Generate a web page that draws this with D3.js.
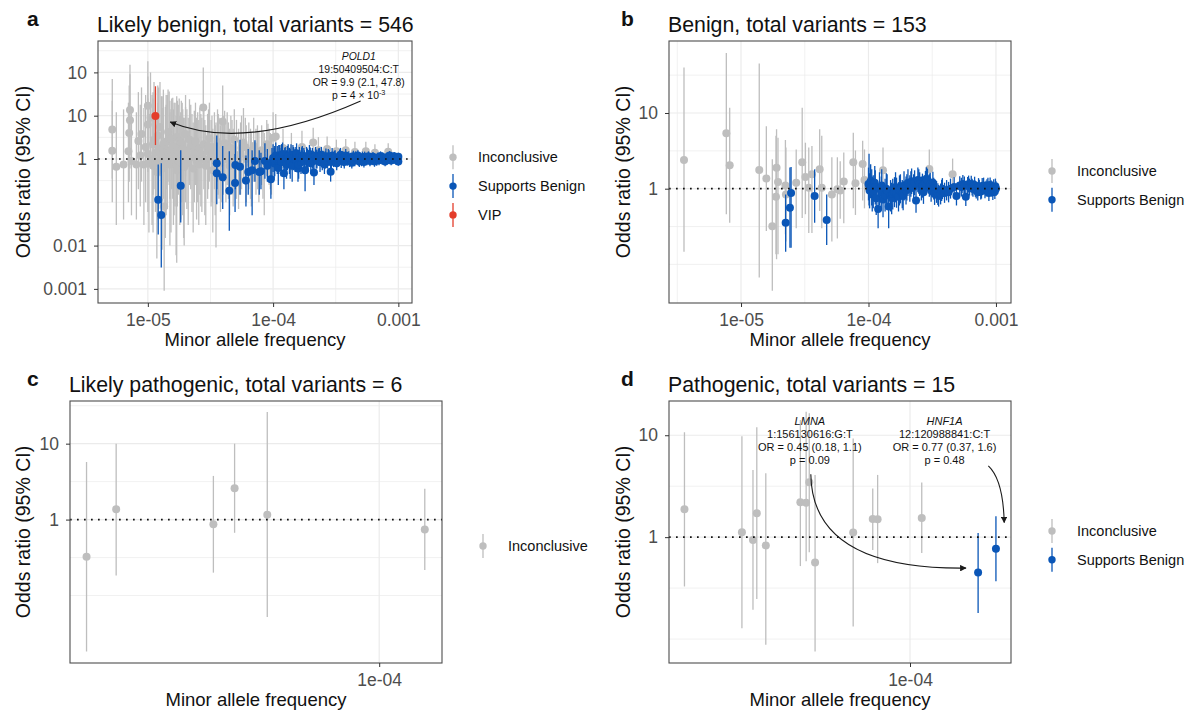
<!DOCTYPE html>
<html>
<head>
<meta charset="utf-8">
<script src="https://cdn.jsdelivr.net/npm/d3@7"></script>
<style>
  body { margin: 0; background: #fff; }
  text { font-family: "Liberation Sans", Arial, Helvetica, sans-serif; }
</style>
</head>
<body>
<svg id="chart" width="1192" height="712"></svg>
<script>
// rows are [minor allele frequency, odds ratio, lower 95% CI, upper 95% CI]

var categories = ["Inconclusive", "Supports Benign", "VIP"];

// ---- a: likely benign ----
var aInconclusive = [
  [5.2e-6,4.8,0.35,70],[5.2e-6,1.55,0.1,22],[5.6e-6,0.66,0.03,12],[6.4e-6,0.75,0.04,14],
  [7.2e-6,13.5,1.2,150],[7.2e-6,7.8,0.6,90],[7.1e-6,4.0,0.3,50],[7.0e-6,1.5,0.1,20],
  [7.4e-6,0.9,0.05,15],[8.1e-6,0.75,0.04,12],[8.4e-6,2.6,0.2,35],[8.9e-6,3.8,0.3,45],
  [8.7e-6,1.2,0.08,18],[9.3e-6,0.75,0.03,15],[9.6e-6,1.9,0.1,30],[1.0e-5,17,1.5,180],
  [1.0e-5,6.3,0.5,80],[1.05e-5,9,0.8,100],[1.0e-5,1.3,0.06,25],[1.02e-5,0.8,0.02,20],
  [1.08e-5,1.0,0.03,30],[1.1e-5,2.2,0.15,35],[1.1e-5,0.7,0.02,25],[1.12e-5,2.8,0.2,60],
  [1.15e-5,1.4,0.06,40],[1.18e-5,0.5,0.005,10],[1.2e-5,3.5,0.25,50],[1.2e-5,0.9,0.04,20],
  [1.22e-5,1.7,0.07,45],[1.25e-5,5.5,0.4,60],[1.28e-5,1.2,0.04,28],[1.3e-5,1.8,0.1,28],
  [1.3e-5,0.6,0.008,15],[1.33e-5,2.2,0.12,40],[1.35e-5,0.08,0.0009,1.5],[1.38e-5,0.8,0.015,16],
  [1.4e-5,2.5,0.2,30],[1.4e-5,1.1,0.05,18],[1.43e-5,1.5,0.07,30],[1.45e-5,4.2,0.3,40],
  [1.48e-5,3.0,0.25,36],[1.5e-5,0.75,0.01,12],[1.5e-5,1.6,0.12,22],[1.53e-5,0.9,0.02,14],
  [1.55e-5,2.9,0.2,25],[1.58e-5,2.0,0.12,26],[1.6e-5,0.9,0.03,14],[1.62e-5,1.2,0.05,20],
  [1.65e-5,1.3,0.08,20],[1.68e-5,0.7,0.006,10],[1.7e-5,3.2,0.3,28],[1.7e-5,0.55,0.004,8],
  [1.72e-5,1.5,0.08,22],[1.75e-5,1.9,0.15,18],[1.78e-5,2.6,0.2,25],[1.8e-5,0.85,0.03,10],
  [1.83e-5,1.0,0.04,12],[1.85e-5,2.3,0.2,22],[1.88e-5,1.7,0.1,20],[1.9e-5,1.2,0.05,14],
  [1.93e-5,0.8,0.015,9],[1.95e-5,0.65,0.01,9],[2.0e-5,1.6,0.1,16],[2.0e-5,3.8,0.4,30],
  [2.05e-5,1.2,0.07,14],[2.1e-5,0.8,0.03,9],[2.15e-5,2.8,0.25,24],[2.2e-5,2.0,0.2,18],
  [2.25e-5,1.1,0.06,11],[2.3e-5,0.6,0.02,7],[2.35e-5,1.5,0.1,13],[2.4e-5,2.6,0.25,20],
  [2.45e-5,0.9,0.04,9],[2.5e-5,1.4,0.1,12],[2.55e-5,0.75,0.03,8],[2.6e-5,1.8,0.15,15],
  [2.65e-5,1.3,0.08,11],[2.7e-5,1.0,0.06,9],[2.77e-5,15.5,1.8,130],[2.8e-5,2.2,0.2,16],
  [2.85e-5,1.0,0.05,8],[2.9e-5,0.7,0.03,6],[3.0e-5,1.5,0.12,11],[3.05e-5,2.0,0.2,14],
  [3.1e-5,3.0,0.3,20],[3.2e-5,1.1,0.08,8],[3.25e-5,1.4,0.1,10],[3.3e-5,0.55,0.02,5],
  [3.4e-5,1.9,0.2,12],[3.45e-5,0.85,0.05,6],[3.5e-5,0.9,0.009,7],[3.6e-5,2.5,0.3,14],
  [3.65e-5,1.7,0.15,11],[3.7e-5,1.3,0.12,9],[3.8e-5,0.8,0.06,6],[3.85e-5,1.1,0.1,7],
  [3.96e-5,7.3,0.8,50],[4.0e-5,1.6,0.15,10],[4.1e-5,2.3,0.3,13],[4.2e-5,1.0,0.1,7],
  [4.3e-5,2.1,0.25,12],[4.4e-5,1.2,0.12,7],[4.5e-5,0.7,0.05,5],[4.6e-5,1.8,0.2,10],
  [4.7e-5,1.4,0.15,8],[4.8e-5,0.9,0.08,5],[4.9e-5,2.8,0.35,14],[5.1e-5,1.2,0.12,8],
  [5.3e-5,0.8,0.07,5],[5.5e-5,1.3,0.15,7],[5.6e-5,1.8,0.2,10],[5.8e-5,2.4,0.3,15],
  [6.0e-5,1.9,0.25,9],[6.1e-5,1.0,0.1,6],[6.4e-5,1.5,0.2,7],[6.6e-5,1.1,0.12,5],
  [6.7e-5,0.75,0.08,4],[7.0e-5,2.0,0.3,9],[7.3e-5,1.2,0.15,5],[7.5e-5,1.4,0.2,6],
  [7.7e-5,0.9,0.1,4.5],[8.1e-5,1.6,0.25,6],[8.3e-5,1.0,0.12,4.5],[8.5e-5,1.1,0.05,4],
  [8.9e-5,2.2,0.4,8],[9.1e-5,1.7,0.3,6.5],[9.3e-5,1.3,0.25,5],[9.5e-5,1.05,0.2,4],
  [9.7e-5,0.8,0.15,3.5],[1.0e-4,3.1,0.6,12],[1.05e-4,3.3,0.9,11],[1.2e-4,1.8,0.6,5],
  [1.4e-4,1.5,0.55,4],[1.7e-4,1.9,0.7,4.5],[2.09e-4,2.4,1.0,5.3],[2.3e-4,1.6,0.8,3.2],
  [2.7e-4,1.7,0.85,3.3],[3.2e-4,1.5,0.8,2.8],[3.8e-4,1.6,0.85,2.9],[4.5e-4,1.45,0.8,2.5],
  [5.5e-4,1.5,0.85,2.5],[6.5e-4,1.4,0.9,2.2],[8.3e-4,1.47,0.95,2.3]
];
var aBenign = [
  [1.21e-5,0.115,0.018,0.75],[1.28e-5,0.051,0.0031,0.8],[1.83e-5,0.24,0.034,1.6],
  [3.55e-5,0.47,0.09,2.4],[3.55e-5,0.8,0.2,3.5],[3.96e-5,0.38,0.07,2.0],[4.47e-5,0.185,0.022,1.5],
  [4.97e-5,0.28,0.06,1.3],[5.0e-5,0.73,0.2,2.6],[5.44e-5,0.66,0.15,2.8],[6.07e-5,0.32,0.08,1.2],
  [6.33e-5,0.5,0.15,1.7],[6.8e-5,0.55,0.05,1.6],[7.16e-5,0.9,0.3,2.7],[7.75e-5,0.5,0.15,1.6],
  [8.0e-5,0.52,0.2,1.4],[8.6e-5,0.9,0.35,2.3],[9.0e-5,0.7,0.3,1.7],[9.6e-5,0.34,0.12,0.95],
  [9.8e-5,0.85,0.4,1.8],
  [1.0e-4,1.05,0.5,2.2],[1.02e-4,0.8,0.35,1.8],[1.03e-4,0.9,0.4,2.0],[1.05e-4,1.2,0.6,2.4],
  [1.08e-4,0.95,0.45,2.0],[1.1e-4,0.62,0.25,1.5],[1.11e-4,1.0,0.45,2.1],[1.13e-4,1.1,0.55,2.1],
  [1.16e-4,0.85,0.4,1.8],[1.17e-4,1.15,0.6,2.2],[1.19e-4,1.3,0.7,2.4],[1.22e-4,0.47,0.2,1.1],
  [1.24e-4,0.9,0.45,1.8],[1.25e-4,1.0,0.5,1.9],[1.28e-4,0.75,0.35,1.6],[1.3e-4,1.05,0.55,2.0],
  [1.32e-4,1.15,0.6,2.2],[1.35e-4,0.9,0.45,1.8],[1.37e-4,0.8,0.35,1.7],[1.39e-4,1.25,0.7,2.2],
  [1.42e-4,0.7,0.3,1.5],[1.44e-4,1.2,0.65,2.1],[1.46e-4,1.05,0.55,1.9],[1.5e-4,0.95,0.5,1.7],
  [1.52e-4,1.0,0.5,1.9],[1.54e-4,1.35,0.8,2.3],[1.58e-4,0.6,0.3,1.2],[1.6e-4,0.75,0.35,1.5],
  [1.62e-4,1.1,0.6,1.9],[1.67e-4,0.85,0.45,1.6],[1.69e-4,1.05,0.6,1.85],[1.71e-4,1.2,0.7,2.0],
  [1.76e-4,1.0,0.55,1.8],[1.78e-4,0.9,0.5,1.6],[1.8e-4,0.55,0.18,1.2],[1.85e-4,1.15,0.65,1.9],
  [1.88e-4,1.0,0.55,1.75],[1.9e-4,0.9,0.5,1.6],[1.95e-4,1.3,0.8,2.1],[1.98e-4,1.1,0.65,1.85],
  [2.0e-4,0.8,0.45,1.4],[2.06e-4,1.05,0.6,1.8],[2.09e-4,0.9,0.5,1.55],[2.12e-4,0.49,0.25,0.95],
  [2.18e-4,1.2,0.75,1.9],[2.21e-4,1.0,0.6,1.65],[2.24e-4,0.95,0.6,1.6],[2.3e-4,1.1,0.7,1.75],
  [2.34e-4,1.15,0.7,1.8],[2.37e-4,0.85,0.5,1.4],[2.43e-4,1.25,0.8,1.9],[2.47e-4,0.88,0.55,1.4],
  [2.5e-4,1.0,0.65,1.55],[2.57e-4,0.75,0.45,1.25],[2.61e-4,0.95,0.6,1.5],[2.64e-4,1.15,0.75,1.75],
  [2.72e-4,0.9,0.6,1.4],[2.76e-4,1.1,0.7,1.7],[2.8e-4,1.05,0.7,1.6],[2.88e-4,0.51,0.3,0.9],
  [2.92e-4,0.85,0.55,1.3],[2.96e-4,1.2,0.8,1.8],[3.04e-4,0.95,0.65,1.4],[3.09e-4,1.05,0.7,1.55],
  [3.13e-4,1.1,0.75,1.6],[3.22e-4,0.8,0.55,1.2],[3.27e-4,0.95,0.65,1.4],[3.31e-4,1.0,0.7,1.45],
  [3.4e-4,1.15,0.8,1.65],[3.45e-4,1.25,0.85,1.8],[3.5e-4,0.9,0.62,1.3],[3.6e-4,1.05,0.75,1.5],
  [3.65e-4,0.95,0.68,1.35],[3.7e-4,0.85,0.6,1.2],[3.8e-4,1.2,0.85,1.7],[3.86e-4,1.05,0.75,1.45],
  [3.91e-4,0.95,0.7,1.3],[4.02e-4,1.1,0.8,1.5],[4.08e-4,0.9,0.65,1.25],[4.13e-4,1.0,0.72,1.4],
  [4.25e-4,0.82,0.6,1.15],[4.31e-4,1.0,0.73,1.38],[4.37e-4,1.15,0.85,1.55],[4.49e-4,0.92,0.68,1.25],
  [4.55e-4,1.1,0.8,1.5],[4.62e-4,1.05,0.78,1.4],[4.75e-4,1.2,0.9,1.6],[4.81e-4,0.95,0.7,1.3],
  [4.88e-4,0.88,0.65,1.2],[5.02e-4,1.0,0.75,1.35],[5.09e-4,0.92,0.68,1.25],[5.16e-4,1.1,0.82,1.48],
  [5.31e-4,0.85,0.64,1.14],[5.38e-4,1.12,0.85,1.48],[5.46e-4,1.05,0.8,1.38],[5.61e-4,0.95,0.72,1.25],
  [5.69e-4,1.0,0.76,1.32],[5.77e-4,1.15,0.88,1.5],[5.93e-4,0.9,0.68,1.18],[6.02e-4,0.95,0.72,1.25],
  [6.1e-4,1.02,0.78,1.33],[6.27e-4,1.12,0.86,1.45],[6.36e-4,1.05,0.8,1.38],[6.45e-4,0.87,0.66,1.14],
  [6.63e-4,1.0,0.77,1.3],[6.72e-4,0.92,0.7,1.2],[6.82e-4,1.08,0.84,1.4],[7.01e-4,0.93,0.72,1.2],
  [7.11e-4,1.05,0.82,1.35],[7.21e-4,1.17,0.9,1.5],[7.41e-4,0.96,0.75,1.23],[7.52e-4,1.1,0.86,1.42],
  [7.62e-4,1.04,0.81,1.33],[7.84e-4,0.88,0.68,1.13],[7.95e-4,0.95,0.74,1.22],[8.06e-4,1.1,0.86,1.4],
  [8.29e-4,0.98,0.77,1.25],[8.4e-4,1.05,0.82,1.34],[8.52e-4,1.2,0.94,1.52],[8.76e-4,0.92,0.72,1.17],
  [8.89e-4,0.98,0.77,1.25],[9.01e-4,1.05,0.83,1.33],[9.26e-4,1.15,0.91,1.45],[9.4e-4,1.08,0.85,1.37],
  [9.52e-4,0.95,0.75,1.2],[9.79e-4,1.0,0.8,1.26],[9.9e-4,0.95,0.75,1.2],[1.0e-3,0.88,0.7,1.1],
  [1.0e-3,1.12,0.9,1.4]
];
var aVip = [[1.15e-5,9.9,2.1,47.8]];

// ---- b: benign ----
var bInconclusive = [
  [3.57e-6,2.4,0.147,40],[7.67e-6,5.4,0.46,62],[8.15e-6,2.04,0.355,11.7],[1.39e-5,1.77,0.067,45],
  [1.58e-5,1.36,0.276,6.7],[1.76e-5,0.32,0.045,2.45],[1.9e-5,1.89,0.117,6.1],[1.95e-5,1.23,0.136,4.7],
  [1.88e-5,0.78,0.136,5.0],[2.23e-5,1.1,0.25,4.4],[2.25e-5,0.84,0.2,3.5],[2.71e-5,1.2,0.3,3.3],
  [3.02e-5,2.23,0.41,11.7],[3.2e-5,1.43,0.46,4.05],[3.4e-5,1.03,0.26,3.5],[3.6e-5,1.55,0.26,3.66],
  [4.14e-5,1.8,0.507,6.1],[4.3e-5,1.03,0.3,5.0],[5.16e-5,0.84,0.2,2.6],[5.7e-5,0.98,0.22,2.6],
  [6.0e-5,0.95,0.4,2.3],[6.4e-5,1.24,0.35,3.0],[7.6e-5,2.23,0.55,5.5],[7.9e-5,1.18,0.45,3.2],
  [9.0e-5,2.12,0.7,4.3],[9.3e-5,1.3,0.55,3.3],[1.3e-4,1.75,0.9,3.5],[3.0e-4,1.82,1.0,3.3],
  [4.57e-4,1.55,0.95,2.5]
];
var bBenign = [
  [2.24e-5,0.356,0.147,0.84],[2.42e-5,0.56,0.166,1.9],[2.47e-5,0.88,0.166,1.94],
  [3.78e-5,0.8,0.355,1.8],[4.7e-5,0.386,0.18,0.84],
  [1.0e-4,1.15,0.7,1.9],[1.01e-4,1.1,0.6,2.9],[1.02e-4,0.95,0.55,1.6],[1.04e-4,1.25,0.75,2.1],
  [1.06e-4,1.05,0.6,1.8],[1.07e-4,0.85,0.5,1.45],[1.09e-4,0.9,0.55,1.5],[1.12e-4,1.2,0.7,2.0],
  [1.13e-4,1.05,0.62,1.75],[1.15e-4,0.75,0.45,1.25],[1.19e-4,0.54,0.3,0.95],[1.22e-4,1.0,0.6,1.65],
  [1.26e-4,0.88,0.52,1.45],[1.27e-4,1.1,0.65,1.8],[1.3e-4,0.72,0.42,1.2],[1.35e-4,0.82,0.5,1.35],
  [1.38e-4,1.0,0.6,1.6],[1.4e-4,0.95,0.58,1.55],[1.44e-4,0.58,0.3,1.0],[1.49e-4,0.8,0.5,1.3],
  [1.52e-4,0.75,0.46,1.2],[1.55e-4,0.85,0.53,1.35],[1.6e-4,0.9,0.57,1.42],[1.63e-4,1.05,0.66,1.65],
  [1.66e-4,0.9,0.56,1.4],[1.72e-4,0.78,0.5,1.22],[1.75e-4,0.95,0.6,1.5],[1.78e-4,1.0,0.64,1.55],
  [1.84e-4,0.85,0.55,1.3],[1.87e-4,0.8,0.52,1.25],[1.9e-4,1.1,0.7,1.7],[1.97e-4,0.95,0.62,1.45],
  [2.0e-4,1.05,0.7,1.55],[2.04e-4,1.2,0.8,1.8],[2.11e-4,1.0,0.67,1.5],[2.15e-4,1.15,0.78,1.7],
  [2.18e-4,1.25,0.85,1.85],[2.26e-4,1.05,0.72,1.55],[2.3e-4,1.2,0.82,1.75],[2.36e-4,0.7,0.48,1.02],
  [2.44e-4,1.3,0.9,1.9],[2.48e-4,1.25,0.86,1.8],[2.52e-4,1.15,0.8,1.65],[2.6e-4,1.0,0.7,1.45],
  [2.65e-4,1.1,0.76,1.58],[2.7e-4,0.9,0.63,1.3],[2.8e-4,1.2,0.84,1.72],[2.85e-4,1.35,0.95,1.92],
  [2.9e-4,1.3,0.92,1.84],[3.0e-4,1.1,0.78,1.55],[3.05e-4,1.15,0.82,1.62],[3.1e-4,0.95,0.67,1.35],
  [3.2e-4,1.2,0.86,1.68],[3.25e-4,1.0,0.72,1.4],[3.3e-4,0.85,0.61,1.19],[3.42e-4,0.9,0.65,1.26],
  [3.5e-4,0.85,0.61,1.18],[3.55e-4,0.8,0.58,1.12],[3.68e-4,0.85,0.62,1.17],[3.75e-4,0.95,0.69,1.31],
  [3.8e-4,1.0,0.73,1.38],[3.95e-4,0.88,0.65,1.2],[4.1e-4,0.95,0.7,1.3],[4.25e-4,0.9,0.66,1.23],
  [4.4e-4,1.0,0.74,1.36],[4.7e-4,1.05,0.78,1.42],[4.9e-4,0.8,0.6,1.08],[5.2e-4,1.1,0.83,1.46],
  [5.35e-4,1.05,0.79,1.39],[5.5e-4,1.15,0.87,1.52],[5.65e-4,1.1,0.84,1.45],[5.8e-4,0.78,0.59,1.03],
  [6.0e-4,1.1,0.85,1.43],[6.1e-4,1.15,0.89,1.49],[6.2e-4,1.05,0.81,1.36],[6.4e-4,1.15,0.89,1.48],
  [6.5e-4,1.05,0.81,1.35],[6.6e-4,1.0,0.78,1.29],[6.8e-4,1.12,0.87,1.44],[6.9e-4,1.0,0.78,1.28],
  [7.0e-4,0.95,0.74,1.22],[7.2e-4,0.9,0.7,1.16],[7.3e-4,1.08,0.84,1.38],[7.4e-4,1.02,0.8,1.31],
  [7.6e-4,0.92,0.72,1.18],[7.7e-4,0.95,0.74,1.22],[7.8e-4,1.08,0.85,1.38],[8.0e-4,1.1,0.86,1.4],
  [8.2e-4,0.95,0.75,1.21],[8.35e-4,1.0,0.79,1.27],[8.5e-4,1.05,0.83,1.33],[8.65e-4,1.1,0.87,1.39],
  [8.8e-4,0.88,0.69,1.12],[9.0e-4,1.12,0.89,1.41],[9.15e-4,1.02,0.81,1.29],[9.3e-4,0.98,0.78,1.24],
  [9.45e-4,0.9,0.71,1.14],[9.6e-4,1.05,0.83,1.33],[9.8e-4,0.92,0.73,1.16],[9.9e-4,1.08,0.86,1.36],
  [1.0e-3,1.0,0.8,1.25]
];

// ---- c: likely pathogenic ----
var cInconclusive = [
  [1.855e-5,0.323,0.0183,5.74],[2.2e-5,1.37,0.183,10.0],[3.85e-5,0.87,0.2,3.76],
  [4.35e-5,2.59,0.67,10.0],[5.25e-5,1.16,0.052,26.1],[1.3e-4,0.74,0.216,2.54]
];

// ---- d: pathogenic ----
var dInconclusive = [
  [2.73e-5,1.88,0.328,10.7],[3.8e-5,1.12,0.128,9.8],[4.05e-5,0.94,0.194,4.57],
  [4.14e-5,1.72,0.247,12],[4.36e-5,0.83,0.088,4.24],[5.32e-5,2.2,0.52,14.1],
  [5.5e-5,2.17,0.58,17],[5.6e-5,3.46,0.71,16.4],[5.79e-5,0.564,0.0755,4.08],
  [7.21e-5,1.11,0.133,9.3],[8.07e-5,1.51,0.75,3.0],[8.3e-5,1.5,0.556,4.08],
  [1.07e-4,1.54,0.7,3.43]
];
var dBenign = [[1.48e-4,0.45,0.18,1.1],[1.64e-4,0.77,0.37,1.6]];

// ticks
var xTicksAB = [1e-5, 1e-4, 1e-3];
var xLabelsAB = ["1e-05", "1e-04", "0.001"];
var xTicksCD = [1e-4];
var xLabelsCD = ["1e-04"];
var yTicksA = [0.001, 0.01, 1, 10, 100];
var yLabelsA = ["0.001", "0.01", "1", "10", "10"];
var yTicksBCD = [1, 10];
var yLabelsBCD = ["1", "10"];

var colours = { "Inconclusive": "#BEBEBE", "Supports Benign": "#0A56B7", "VIP": "#E43D2B" };

function pw(e) { return Math.pow(10, e); }

var panels = [
  { letter: "a", title: "Likely benign, total variants = 546",
    left: 98, top: 41, width: 314, height: 262,
    xDomain: [pw(-5.398), pw(-2.891)], yDomain: [pw(-3.326), pw(2.725)],
    xTicks: xTicksAB, xLabels: xLabelsAB, yTicks: yTicksA, yLabels: yLabelsA,
    xGrid: [-5, -4.5, -4, -3.5, -3].map(pw),
    yGrid: [-3, -2.5, -2, -1.5, -1, -0.5, 0, 0.5, 1, 1.5, 2, 2.5].map(pw),
    series: [["Inconclusive", aInconclusive], ["Supports Benign", aBenign], ["VIP", aVip]],
    legendX: 453, legendY: 157.3, yTitleX: 23,
    noteSize: 10.4, noteStep: 12.7,
    notes: [{ gene: "POLD1", lines: ["19:50409504:C:T", "OR = 9.9 (2.1, 47.8)"], p: ["p = 4 \u00d7 10", "-3"],
              at: [4.83e-4, 189], from: [5.0e-4, 21.9], ctrl: [5.9e-5, 1.41], to: [1.51e-5, 7.15] }] },
  { letter: "b", title: "Benign, total variants = 153",
    left: 669, top: 41, width: 342, height: 262,
    xDomain: [pw(-5.565), pw(-2.882)], yDomain: [pw(-1.51), pw(1.951)],
    xTicks: xTicksAB, xLabels: xLabelsAB, yTicks: yTicksBCD, yLabels: yLabelsBCD,
    xGrid: [-5.5, -5, -4.5, -4, -3.5, -3].map(pw),
    yGrid: [-1, -0.5, 0, 0.5, 1, 1.5].map(pw),
    series: [["Inconclusive", bInconclusive], ["Supports Benign", bBenign]],
    legendX: 1052, legendY: 171, yTitleX: 623, notes: [] },
  { letter: "c", title: "Likely pathogenic, total variants = 6",
    left: 70, top: 401, width: 372, height: 262,
    xDomain: [pw(-4.773), pw(-3.843)], yDomain: [pw(-1.889), pw(1.562)],
    xTicks: xTicksCD, xLabels: xLabelsCD, yTicks: yTicksBCD, yLabels: yLabelsBCD,
    xGrid: [1e-4],
    yGrid: [-1, -0.5, 0, 0.5, 1, 1.5].map(pw),
    series: [["Inconclusive", cInconclusive]],
    legendX: 483, legendY: 546, yTitleX: 23, notes: [] },
  { letter: "d", title: "Pathogenic, total variants = 15",
    left: 669, top: 401, width: 342, height: 262,
    xDomain: [pw(-4.6025), pw(-3.7475)], yDomain: [pw(-1.235), pw(1.336)],
    xTicks: xTicksCD, xLabels: xLabelsCD, yTicks: yTicksBCD, yLabels: yLabelsBCD,
    xGrid: [1e-4],
    yGrid: [-1, -0.5, 0, 0.5, 1].map(pw),
    series: [["Inconclusive", dInconclusive], ["Supports Benign", dBenign]],
    legendX: 1052, legendY: 531, yTitleX: 623,
    noteSize: 11, noteStep: 13,
    notes: [{ gene: "LMNA", lines: ["1:156130616:G:T", "OR = 0.45 (0.18, 1.1)"], p: ["p = 0.09"],
              at: [5.62e-5, 12.5], from: [5.65e-5, 4.15], ctrl: [5.69e-5, 0.478], to: [1.38e-4, 0.497] },
            { gene: "HNF1A", lines: ["12:120988841:C:T", "OR = 0.77 (0.37, 1.6)"], p: ["p = 0.48"],
              at: [1.22e-4, 12.5], from: [1.57e-4, 5.0], ctrl: [1.71e-4, 3.65], to: [1.72e-4, 1.39] }] }
];

var svg = d3.select("#chart");
var defs = svg.append("defs");
defs.append("marker")
    .attr("id", "arrow")
    .attr("viewBox", "0 0 10 10")
    .attr("refX", 9).attr("refY", 5)
    .attr("markerWidth", 6.5).attr("markerHeight", 6.5)
    .attr("markerUnits", "userSpaceOnUse")
    .attr("orient", "auto")
  .append("path")
    .attr("d", "M0,0L10,5L0,10z")
    .attr("fill", "#1a1a1a");

panels.forEach(function(p, pi) {
    var x = d3.scaleLog().domain(p.xDomain).range([0, p.width]);
    var y = d3.scaleLog().domain(p.yDomain).range([p.height, 0]);
    var g = svg.append("g").attr("transform", "translate(" + p.left + "," + p.top + ")");

    defs.append("clipPath").attr("id", "clip" + pi)
      .append("rect").attr("width", p.width).attr("height", p.height);

    // grid
    g.selectAll(".gx").data(p.xGrid).enter().append("line")
        .attr("x1", function(d) { return x(d); }).attr("x2", function(d) { return x(d); })
        .attr("y1", 0).attr("y2", p.height)
        .attr("stroke", "#EBEBEB")
        .attr("stroke-width", function(d) { return p.xTicks.indexOf(d) >= 0 ? 1.2 : 0.7; });
    g.selectAll(".gy").data(p.yGrid).enter().append("line")
        .attr("y1", function(d) { return y(d); }).attr("y2", function(d) { return y(d); })
        .attr("x1", 0).attr("x2", p.width)
        .attr("stroke", "#EBEBEB")
        .attr("stroke-width", function(d) {
            return p.yTicks.some(function(t) { return Math.abs(t - d) / t < 1e-6; }) ? 1.2 : 0.7;
        });

    var marks = g.append("g").attr("clip-path", "url(#clip" + pi + ")");
    p.series.forEach(function(s) {
        var col = colours[s[0]];
        var sg = marks.append("g");
        sg.selectAll("line").data(s[1]).enter().append("line")
            .attr("x1", function(d) { return x(d[0]); }).attr("x2", function(d) { return x(d[0]); })
            .attr("y1", function(d) { return y(d[2]); }).attr("y2", function(d) { return y(d[3]); })
            .attr("stroke", col).attr("stroke-width", 1.3);
        sg.selectAll("circle").data(s[1]).enter().append("circle")
            .attr("cx", function(d) { return x(d[0]); })
            .attr("cy", function(d) { return y(d[1]); })
            .attr("r", 4)
            .attr("fill", col);
    });

    // reference line at OR = 1
    g.append("line")
        .attr("x1", 0).attr("x2", p.width)
        .attr("y1", y(1)).attr("y2", y(1))
        .attr("stroke", "#111").attr("stroke-width", 1.7)
        .attr("stroke-dasharray", "1.7,5.3");

    // annotations
    p.notes.forEach(function(n) {
        var tx = x(n.at[0]), ty = y(n.at[1]);
        var t = g.append("text").attr("text-anchor", "middle")
            .attr("font-size", p.noteSize).attr("fill", "#111");
        t.append("tspan").attr("x", tx).attr("y", ty).attr("font-style", "italic").text(n.gene);
        n.lines.forEach(function(l, i) {
            t.append("tspan").attr("x", tx).attr("y", ty + p.noteStep * (i + 1)).text(l);
        });
        t.append("tspan").attr("x", tx).attr("y", ty + p.noteStep * 3).text(n.p[0]);
        if (n.p.length > 1) {
            t.append("tspan").attr("dy", -4).attr("font-size", p.noteSize * 0.7).text(n.p[1]);
        }
        g.append("path")
            .attr("d", "M" + x(n.from[0]) + "," + y(n.from[1]) +
                       "Q" + x(n.ctrl[0]) + "," + y(n.ctrl[1]) +
                       " " + x(n.to[0]) + "," + y(n.to[1]))
            .attr("fill", "none").attr("stroke", "#1a1a1a").attr("stroke-width", 1.1)
            .attr("marker-end", "url(#arrow)");
    });

    // border
    g.append("rect").attr("width", p.width).attr("height", p.height)
        .attr("fill", "none").attr("stroke", "#4d4d4d").attr("stroke-width", 1.1);

    // axes
    var xa = g.append("g").attr("transform", "translate(0," + p.height + ")")
        .call(d3.axisBottom(x).tickValues(p.xTicks)
              .tickFormat(function(d, i) { return p.xLabels[i]; })
              .tickSize(4).tickSizeOuter(0).tickPadding(7));
    var ya = g.append("g")
        .call(d3.axisLeft(y).tickValues(p.yTicks)
              .tickFormat(function(d, i) { return p.yLabels[i]; })
              .tickSize(4).tickSizeOuter(0).tickPadding(7));
    [xa, ya].forEach(function(a) {
        a.select(".domain").remove();
        a.selectAll("line").attr("stroke", "#333");
        a.selectAll("text").attr("font-size", 17.5).attr("fill", "#4D4D4D")
            .attr("font-family", "Liberation Sans, Arial, sans-serif");
    });

    // axis titles
    svg.append("text").attr("x", p.left + p.width / 2).attr("y", p.top + p.height + 43)
        .attr("text-anchor", "middle").attr("font-size", 18.5).attr("fill", "#111")
        .text("Minor allele frequency");
    svg.append("text")
        .attr("transform", "translate(" + p.yTitleX + "," + (p.top + p.height / 2) + ") rotate(-90)")
        .attr("text-anchor", "middle").attr("dy", "0.35em")
        .attr("font-size", 19.5).attr("fill", "#111")
        .text("Odds ratio (95% CI)");

    // title and panel letter
    svg.append("text").attr("x", p.left - 1).attr("y", p.top - 9)
        .attr("font-size", 21.3).attr("fill", "#111").text(p.title);
    svg.append("text").attr("x", pi % 2 === 0 ? 27 : 621).attr("y", p.top - 15)
        .attr("font-size", 21).attr("font-weight", "bold").attr("fill", "#111").text(p.letter);

    // legend
    var lg = svg.append("g");
    p.series.forEach(function(s, i) {
        var ly = p.legendY + i * 28.8;
        var col = colours[s[0]];
        lg.append("line").attr("x1", p.legendX).attr("x2", p.legendX)
            .attr("y1", ly - 12).attr("y2", ly + 12)
            .attr("stroke", col).attr("stroke-width", 1.3);
        lg.append("circle").attr("cx", p.legendX).attr("cy", ly).attr("r", 3.7).attr("fill", col);
        lg.append("text").attr("x", p.legendX + 25).attr("y", ly).attr("dy", "0.35em")
            .attr("font-size", 14.5).attr("fill", "#111").text(s[0]);
    });
});
</script>
</body>
</html>
